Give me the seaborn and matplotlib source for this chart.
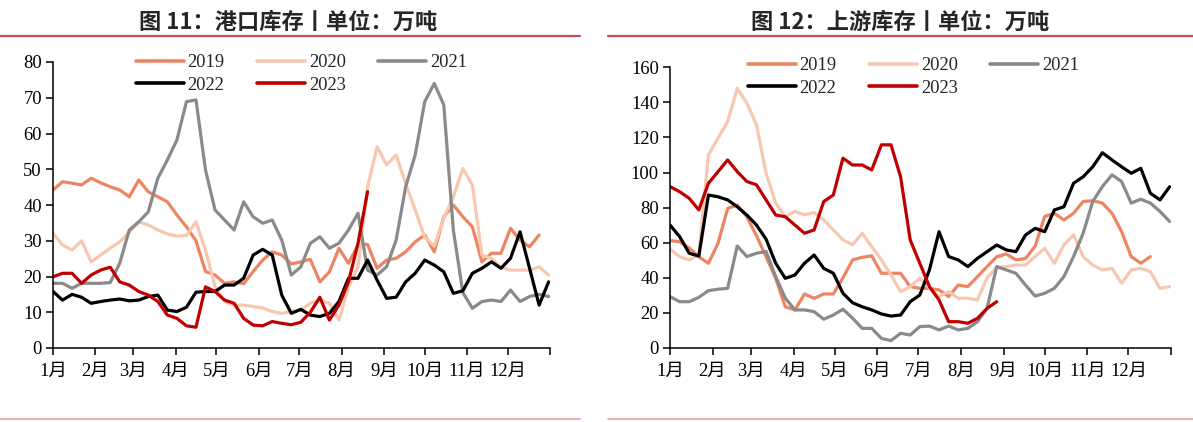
import numpy as np
import pandas as pd
import matplotlib
matplotlib.use("Agg")
import matplotlib.pyplot as plt
from matplotlib.lines import Line2D
import seaborn as sns

# ---- data (weekly) ----
years = ["2019", "2020", "2021", "2022", "2023"]

# 港口库存 (万吨)
port_2019 = [44.2, 46.5, 46.1, 45.6, 47.5, 46.2, 45.1, 44.2, 42.3, 47.0, 43.7, 42.3, 40.9, 37.2,
             33.9, 30.0, 21.4, 20.4, 18.1, 18.5, 18.0, 21.4, 24.6, 26.9, 26.0, 23.5, 24.1, 24.8,
             18.5, 21.3, 27.9, 23.7, 28.8, 29.0, 22.3, 24.6, 25.1, 26.9, 29.7, 31.6, 26.9, 36.7,
             40.0, 36.7, 33.9, 24.1, 26.5, 26.5, 33.5, 30.2, 28.3, 31.6]
port_2020 = [32.1, 28.8, 27.4, 30.0, 24.1, 26.0, 27.9, 29.7, 32.3, 35.3, 34.4, 33.0, 31.9, 31.3,
             31.5, 35.3, 27.4, 17.1, 13.0, 12.0, 12.0, 11.6, 11.2, 10.2, 9.7, 10.2, 10.6, 12.5,
             13.4, 12.5, 7.8, 17.1, 22.7, 45.0, 56.3, 51.2, 54.0, 46.0, 38.6, 31.0, 28.5, 36.3,
             42.3, 50.2, 45.6, 26.0, 25.1, 22.5, 21.8, 21.8, 21.8, 22.7, 20.4]
port_2021 = [18.1, 18.1, 16.7, 18.1, 18.1, 18.1, 18.3, 23.7, 33.0, 35.3, 38.1, 47.5, 52.6, 58.2,
             68.9, 69.4, 49.8, 38.6, 35.8, 33.0, 40.9, 36.7, 34.9, 35.8, 30.2, 20.4, 22.7, 29.3,
             31.1, 27.9, 29.3, 33.0, 37.7, 21.8, 20.4, 22.7, 30.2, 45.1, 54.0, 68.9, 74.0, 68.0,
             33.0, 15.5, 11.1, 13.0, 13.4, 13.0, 16.2, 13.0, 14.4, 15.0, 14.4]
port_2022 = [15.8, 13.4, 15.0, 14.2, 12.5, 13.0, 13.4, 13.7, 13.2, 13.4, 14.4, 14.8, 10.6, 10.2,
             11.4, 15.6, 15.8, 15.8, 17.6, 17.6, 19.5, 26.0, 27.6, 26.0, 14.8, 9.7, 10.8, 9.2,
             8.8, 9.7, 13.0, 19.5, 19.5, 24.6, 19.0, 13.9, 14.2, 18.5, 20.9, 24.6, 23.2, 21.3,
             15.3, 16.0, 20.9, 22.3, 24.1, 22.3, 25.1, 32.5, 22.3, 12.0, 18.5]
port_2023 = [19.9, 20.9, 20.9, 18.1, 20.4, 21.8, 22.6, 18.5, 17.6, 15.8, 14.8, 13.0, 9.2, 8.3,
             6.2, 5.8, 17.1, 15.8, 13.4, 12.5, 8.3, 6.4, 6.2, 7.4, 6.9, 6.5, 7.2, 10.0, 14.2,
             7.8, 12.0, 18.5, 29.3, 43.7]

# 上游库存 (万吨)
up_2019 = [61.2, 60.6, 57.0, 52.0, 48.3, 59.7, 79.6, 81.5, 74.8, 64.0, 52.0, 39.7, 23.5, 21.7,
           30.8, 28.3, 30.8, 30.8, 40.0, 50.2, 51.7, 52.5, 42.6, 42.6, 42.6, 35.0, 34.0, 34.0,
           33.1, 29.3, 35.9, 35.0, 40.7, 46.4, 52.0, 53.6, 50.2, 51.0, 58.0, 75.0, 76.8, 73.0,
           76.8, 83.5, 84.0, 82.6, 76.8, 66.4, 52.1, 48.3, 52.1]
up_2020 = [56.3, 52.1, 50.2, 53.0, 110.1, 119.6, 129.1, 148.0, 139.6, 127.2, 99.6, 82.6, 74.9,
           77.8, 75.9, 77.2, 73.0, 67.3, 61.6, 58.8, 65.4, 57.8, 50.2, 41.7, 32.1, 35.0, 39.8,
           34.0, 29.3, 32.1, 28.4, 28.4, 27.4, 40.0, 46.0, 46.4, 47.3, 47.3, 52.1, 56.8, 48.3,
           58.8, 64.5, 52.1, 47.3, 44.5, 45.4, 36.9, 44.5, 45.4, 43.5, 34.0, 35.0]
up_2021 = [29.3, 26.4, 26.4, 28.9, 32.7, 33.5, 34.0, 58.2, 52.1, 54.0, 55.0, 40.7, 28.4, 21.7,
           21.7, 20.7, 16.4, 18.8, 22.1, 17.0, 11.2, 11.2, 5.5, 4.2, 8.4, 7.4, 12.2, 12.5, 10.3,
           12.5, 10.3, 11.2, 15.0, 22.6, 46.4, 44.5, 42.6, 35.9, 29.6, 31.2, 34.0, 40.7, 52.1,
           65.4, 83.5, 92.0, 98.7, 94.9, 82.6, 84.8, 82.6, 77.8, 72.1]
up_2022 = [70.1, 63.5, 54.0, 52.4, 87.2, 86.2, 84.4, 80.5, 75.8, 70.1, 62.0, 48.3, 39.7, 41.6,
           48.3, 53.0, 45.4, 42.6, 31.2, 25.8, 23.5, 21.7, 19.4, 18.2, 18.8, 26.4, 30.2, 44.5,
           66.3, 52.1, 50.2, 46.4, 51.1, 54.9, 58.7, 55.9, 54.9, 64.4, 68.2, 66.3, 78.7, 80.5,
           93.9, 97.6, 103.3, 111.3, 107.2, 103.3, 99.6, 102.4, 88.2, 84.4, 91.9]
up_2023 = [92.0, 89.1, 85.3, 78.7, 93.9, 100.5, 107.2, 100.5, 94.9, 93.0, 84.4, 75.8, 74.8, 70.1,
           65.4, 67.3, 83.5, 87.2, 108.2, 104.3, 104.3, 101.5, 115.8, 115.8, 97.6, 61.6, 48.3,
           35.0, 27.4, 15.0, 15.0, 14.1, 16.9, 22.6, 26.4]

month_labels = ["1月", "2月", "3月", "4月", "5月", "6月", "7月", "8月", "9月", "10月", "11月", "12月", ""]
month_days = [0, 31, 59, 90, 120, 151, 181, 212, 243, 273, 304, 334, 365]

palette = {"2019": "#EE8562", "2020": "#F8C7B0", "2021": "#8A8A8A",
           "2022": "#000000", "2023": "#C00000"}


def long_df(series):
    rows = []
    for y, vals in zip(years, series):
        for i, v in enumerate(vals):
            rows.append({"week": i, "value": v, "year": y})
    return pd.DataFrame(rows)


df_port = long_df([port_2019, port_2020, port_2021, port_2022, port_2023])
df_up = long_df([up_2019, up_2020, up_2021, up_2022, up_2023])

sns.set_style("ticks")
plt.rcParams["font.family"] = ["Liberation Serif", "Noto Sans CJK SC"]

W, H = 1193, 422
fig = plt.figure(figsize=(W / 100, H / 100), dpi=100)

ax1 = fig.add_axes([53 / W, 1 - 348 / H, 497 / W, 286 / H])
ax2 = fig.add_axes([670 / W, 1 - 348 / H, 501 / W, 280.7 / H])

panels = [
    (ax1, df_port, (0, 80), np.arange(0, 81, 10), 136, 54, 288.5, "图 11：港口库存丨单位：万吨"),
    (ax2, df_up, (0, 160), np.arange(0, 161, 20), 748, 57, 900.5, "图 12：上游库存丨单位：万吨"),
]

for ax, df, ylim, yticks, leg_x, leg_y, title_x, title in panels:
    sns.lineplot(data=df, x="week", y="value", hue="year", hue_order=years,
                 palette=palette, linewidth=2.3, legend=False, errorbar=None, ax=ax)
    ax.set_xlim(0, 365 / 7)
    ax.set_ylim(*ylim)
    ax.set_yticks(yticks)
    ax.set_xticks([d / 7 for d in month_days])
    ax.set_xticklabels(month_labels)
    ax.set_xlabel("")
    ax.set_ylabel("")
    ax.spines["top"].set_visible(False)
    ax.spines["right"].set_visible(False)
    for s in ["left", "bottom"]:
        ax.spines[s].set_linewidth(1.1)
        ax.spines[s].set_color("black")
    ax.tick_params(axis="both", direction="out", length=5, width=1.1, colors="black",
                   labelsize=13.3, pad=3)
    ax.tick_params(axis="x", pad=6)

    # legend in the order of the reference (row 1: 2019 2020 2021, row 2: 2022 2023)
    order = ["2019", "2022", "2020", "2023", "2021"]
    handles = [Line2D([0], [0], color=palette[y], linewidth=2.6) for y in order]
    ax.legend(handles, order, loc="upper left", bbox_to_anchor=(leg_x / W, 1 - leg_y / H),
              bbox_transform=fig.transFigure, ncol=3, frameon=False, borderpad=0,
              borderaxespad=0, handlelength=2.6, handletextpad=0.2, columnspacing=1.75,
              labelspacing=0.3, fontsize=13.3)

    fig.text(title_x / W, 1 - 22 / H, title, ha="center", va="center", fontsize=16,
             fontweight="heavy", family=["Noto Sans CJK SC"])

# decorative rules above and below each panel
for x0, x1 in [(0, 580), (608, 1193)]:
    fig.add_artist(Line2D([x0 / W, x1 / W], [1 - 36 / H] * 2, transform=fig.transFigure,
                          color="#C0504D", linewidth=1.6))
    fig.add_artist(Line2D([x0 / W, x1 / W], [1 - 419 / H] * 2, transform=fig.transFigure,
                          color="#E3A3A3", linewidth=1.2))

fig.savefig("out.png", dpi=100)
